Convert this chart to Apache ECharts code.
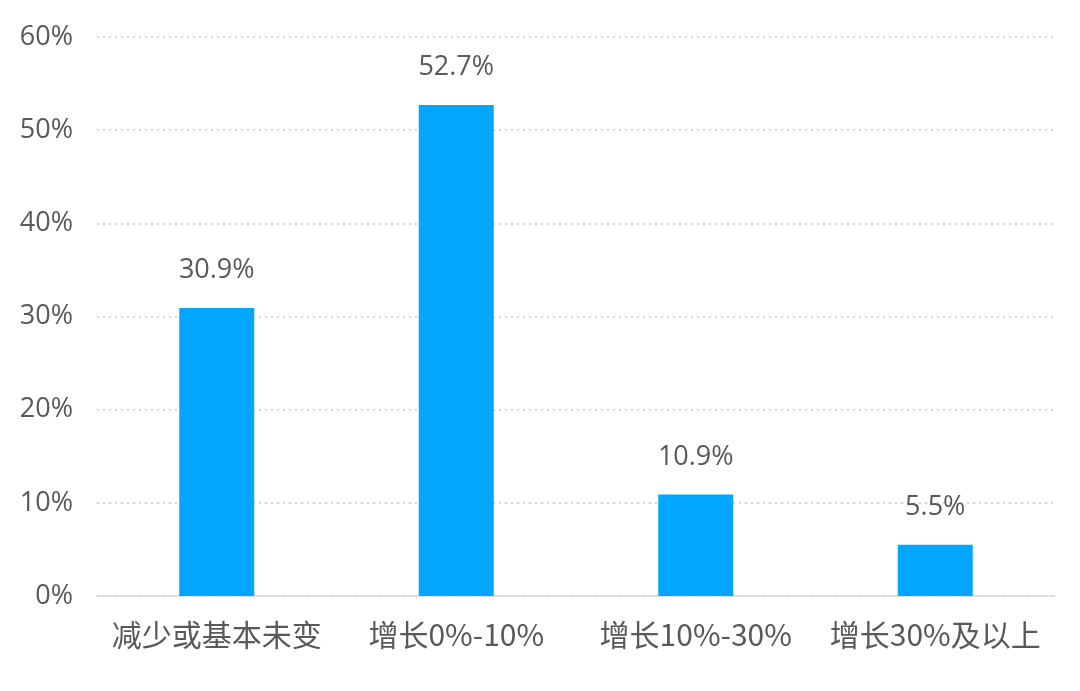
<!DOCTYPE html>
<html><head><meta charset="utf-8">
<script src="https://cdn.jsdelivr.net/npm/echarts@6/dist/echarts.min.js"></script>
<style>html,body{margin:0;padding:0;background:#fff}#c{width:1080px;height:691px}</style>
</head><body><div id="c"></div>
<script>
const categories = ['减少或基本未变', '增长0%-10%', '增长10%-30%', '增长30%及以上'];
const values = [30.9, 52.7, 10.9, 5.5];
const yTicks = [0, 10, 20, 30, 40, 50, 60];

const chart = echarts.init(document.getElementById('c'));
chart.setOption({
  animation: false,
  grid: { left: 97, right: 25, top: 37, bottom: 95, containLabel: false },
  xAxis: {
    type: 'category', data: categories,
    axisTick: { show: false },
    axisLine: { lineStyle: { color: '#d9d9d9', width: 1.5 } },
    axisLabel: { interval: 0, color: '#595959', fontSize: 30, margin: 24, fontFamily: 'Noto Sans CJK SC' }
  },
  yAxis: {
    type: 'value', min: yTicks[0], max: yTicks[yTicks.length - 1], interval: 10,
    axisLine: { show: false }, axisTick: { show: false },
    axisLabel: { color: '#595959', fontSize: 27, margin: 24, fontFamily: 'Open Sans', formatter: v => v + '%' },
    splitLine: { lineStyle: { color: '#c8c8c8', type: [2, 4], width: 1.5 } }
  },
  series: [{
    type: 'bar', data: values, barWidth: 75,
    itemStyle: { color: '#00a6ff' },
    label: { show: true, position: 'top', distance: 24, color: '#595959', fontSize: 27, fontFamily: 'Open Sans', formatter: p => p.value.toFixed(1) + '%' }
  }]
});
</script></body></html>
